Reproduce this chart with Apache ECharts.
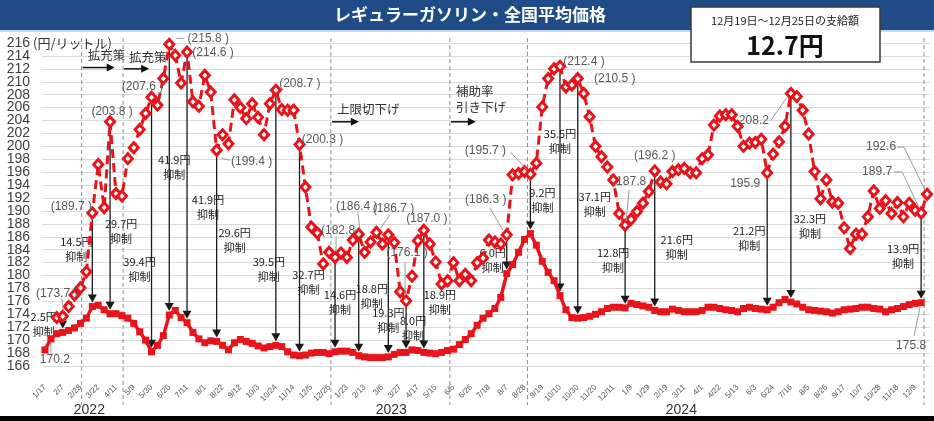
<!DOCTYPE html>
<html><head><meta charset="utf-8">
<script src="https://cdn.jsdelivr.net/npm/echarts@6/dist/echarts.min.js"></script>
<style>html,body{margin:0;padding:0;background:#fff}#c{width:934px;height:421px}</style>
</head><body><div id="c"></div>
<script>
// ---- DATA ----
const categories = [
'1/17','1/24','1/31','2/7','2/14','2/21','2/28','3/7','3/14','3/22','3/28','4/4','4/11','4/18','4/25','5/9','5/16','5/23','5/30','6/6','6/13','6/20','6/27','7/4','7/11','7/19','7/25','8/1','8/8','8/15','8/22','8/29','9/5','9/12','9/20','9/26','10/3','10/11','10/17','10/24','10/31','11/7','11/14','11/21','11/28','12/5','12/12','12/19','12/26',
'1/10','1/16','1/23','1/30','2/6','2/13','2/20','2/27','3/6','3/13','3/20','3/27','4/3','4/10','4/17','4/24','5/8','5/15','5/22','5/29','6/5','6/12','6/19','6/26','7/3','7/10','7/18','7/24','7/31','8/7','8/14','8/21','8/28','9/4','9/11','9/19','9/25','10/2','10/10','10/16','10/23','10/30','11/6','11/13','11/20','11/27','12/4','12/11','12/18','12/25',
'1/9','1/15','1/22','1/29','2/5','2/13','2/19','2/26','3/4','3/11','3/18','3/25','4/1','4/8','4/15','4/22','4/30','5/7','5/13','5/20','5/27','6/3','6/10','6/17','6/24','7/1','7/8','7/16','7/22','7/29','8/5','8/13','8/19','8/26','9/2','9/9','9/17','9/24','9/30','10/7','10/15','10/21','10/28','11/5','11/11','11/18','11/25','12/2','12/9','12/16','12/23'];

// y-axis tick labels
const yTickLabels = [166,168,170,172,174,176,178,180,182,184,186,188,190,192,194,196,198,200,202,204,206,208,210,212,214,216];
const yearLabels = [['2022', 7], ['2023', 58], ['2024', 107]]; // [text, category position]

// price with subsidy (solid line, squares)
const withSubsidy = [
168.5,170.2,171.0,171.2,171.5,171.9,172.6,173.4,175.2,175.4,174.7,174.1,174.1,173.8,173.4,172.6,171.3,170.0,168.2,169.2,
170.7,173.9,174.6,173.5,172.7,171.2,170.2,169.6,169.9,169.8,169.2,168.5,169.6,170.1,169.8,169.5,169.1,168.8,169.0,169.2,
169.0,168.2,167.7,167.6,167.7,168.0,168.1,168.1,167.9,168.2,168.3,168.3,168.1,167.6,167.4,167.3,167.3,167.3,167.4,167.8,
168.1,168.1,168.5,168.4,168.1,168.0,167.9,168.1,168.4,168.6,169.3,170.1,171.0,172.3,173.4,174.1,174.9,176.6,180.3,181.7,
183.6,185.6,186.5,184.7,182.2,180.5,179.2,176.9,174.7,173.5,173.4,173.5,173.7,174.0,174.4,174.9,175.1,175.1,175.0,175.7,
175.5,175.3,175.1,174.6,174.4,174.4,174.8,174.6,174.4,174.4,174.4,174.6,175.1,175.1,174.9,174.7,174.6,174.4,174.9,175.1,
174.9,174.8,174.7,175.1,175.8,176.3,175.9,175.6,175.1,174.7,174.6,174.5,174.4,174.2,174.4,174.7,174.8,174.9,175.1,175.1,
174.9,174.8,174.4,174.7,174.9,175.2,175.5,175.7,175.8];

// price without subsidy (dashed line, diamonds)
const withoutSubsidy = [
null,null,173.5,173.7,175.2,177.0,178.1,180.6,189.7,197.2,190.5,203.8,192.7,192.3,198.1,199.8,202.6,205.1,207.6,206.4,
210.5,215.8,214.1,209.8,214.6,206.9,206.2,211.0,208.4,199.4,201.8,200.4,207.2,206.0,204.3,206.6,204.5,201.8,206.6,208.7,
205.7,205.6,205.6,200.3,193.7,187.5,186.6,181.8,183.6,182.8,183.5,182.8,185.5,186.4,183.6,185.2,186.7,184.9,186.3,185.1,
177.5,176.1,179.9,185.4,187.0,184.9,182.1,178.7,179.2,182.0,179.2,180.2,179.2,182.0,182.7,185.5,185.2,184.9,186.3,195.6,
195.8,196.1,195.7,197.4,206.1,210.5,212.0,212.4,209.2,209.5,210.5,208.2,204.6,200.0,198.4,196.8,194.8,189.6,187.8,188.7,
189.9,191.2,193.0,196.2,194.5,194.2,196.1,196.4,196.6,195.9,195.9,198.1,198.7,203.3,204.7,204.9,204.9,203.1,200.0,200.5,
200.6,201.1,195.9,198.8,200.7,203.1,208.2,207.7,205.6,201.9,196.1,191.9,194.8,191.4,191.2,187.4,184.2,186.4,186.4,189.1,
193.1,190.4,191.6,189.6,191.3,189.1,191.2,190.1,189.7,192.6];

// subsidy arrows: category index and label
const arrowIdx  = [3,8,11,18,21,24,29,39,43,49,53,58,61,64,78,82,87,90,98,103,122,126,148];
const arrowText = ['2.5円','14.5円','29.7円','39.4円','41.9円','41.9円','29.6円','39.5円','32.7円','14.6円','18.8円','19.3円','8.0円','18.9円','6.0円','9.2円','35.5円','37.1円','12.8円','21.6円','21.2円','32.3円','13.9円'];
// text anchor: [dx px, axis value]
const arrowTextPos = [[-19,172.5],[-16,184.0],[11,186.9],[-12,181.0],[5,196.8],[21,190.6],[18,185.5],[-7,180.9],[9,179.0],[5,175.9],[13,176.8],[0,173.1],[7,171.9],[16,175.9],[-14,182.4],[12,191.7],[0,200.8],[17,191.1],[-12,182.4],[22,184.4],[-18,185.7],[19,187.7],[-18,183.0]];

// value labels: [index, series('d' dashed / 's' solid), text]
const valueLabels = [
[3,'d','(173.7 )'],[1,'s','170.2'],[8,'d','(189.7 )'],[11,'d','(203.8 )'],[18,'d','(207.6 )'],[21,'d','(215.8 )'],
[24,'d','(214.6 )'],[29,'d','(199.4 )'],[39,'d','(208.7 )'],[43,'d','(200.3 )'],[49,'d','(182.8'],[53,'d','(186.4 )'],
[56,'d','(186.7 )'],[64,'d','(187.0 )'],[61,'d','(176.1 )'],[78,'d','(186.3 )'],[82,'d','(195.7 )'],[87,'d','(212.4 )'],
[90,'d','(210.5 )'],[98,'d','187.8'],[103,'d','(196.2 )'],[126,'d','208.2'],[122,'d','195.9'],[149,'d','192.6'],
[148,'d','189.7'],[148,'s','175.8']];
// text offset [dx,dy] and optional leader polyline (relative px)
const valueLabelLayout = [
[[-6,-23],[[-1,-18],[1,-5]]],[[4,21],[[0,14],[0,4]]],[[-21,-6]],[[2,-10]],[[-9,-11]],[[39,-6],[[7,-6],[15,-6]]],
[[26,1]],[[35,11],[[5,8],[13,10]]],[[24,-6]],[[23,-5]],[[3,-27],[[1,-21],[1,-6]]],[[-2,-28],[[-1,-22],[1,-6]]],
[[17,-24],[[14,-18],[4,-4]]],[[3,-12]],[[1,-48],[[-1,-39],[-1,-6]]],[[-21,-35],[[-17,-27],[-4,-5]]],[[-45,-23],[[-20,-22],[-3,-4]]],[[24,-5]],
[[37,0]],[[6,-43],[[4,-35],[1,-4]]],[[0,-15]],[[-37,27],[[-20,27],[-4,4]]],[[-22,11]],[[-46,-47],[[-30,-47],[-23,-47],[-2,-4]]],
[[-44,-41],[[-27,-41],[-19,-41],[-2,-5]]],[[-10,43],[[-7,33],[-1,4]]]];

// vertical dashed separators (fractional category positions) and phase notes
const separators = [6.2, 13.2, 48.3, 68.4, 81.5, 148.5];
const phaseNotes = [
  {at:6.2,  text:'拡充策',        textV:214.1, arrowV:212.2, len:33},
  {at:13.2, text:'拡充策',        textV:213.8, arrowV:212.0, len:26},
  {at:48.3, text:'上限切下げ',    textV:205.8, arrowV:203.8, len:28},
  {at:68.4, text:'補助率\n引き下げ', textV:207.3, arrowV:203.8, len:26}
];
const yMin = 166, yMax = 216, yStep = 2;

// ---- CHART ----
const RED = '#E8141B';
const JP = '"Noto Sans CJK JP","Noto Sans",sans-serif';
const NUM = '"Liberation Sans","Noto Sans",sans-serif';
const chart = echarts.init(document.getElementById('c'));

function fx(api, pos, v){ const p = api.coord([0, v]); const band = api.size([1,0])[0]; return [p[0] + pos*band, p[1]]; }

const option = {
  animation:false,
  grid:{left:42, right:4, top:43, bottom:55, containLabel:false},
  xAxis:{type:'category', data:categories, boundaryGap:true,
    axisLine:{show:false}, axisTick:{show:false},
    axisLabel:{interval:2, rotate:45, fontSize:8, color:'#595959', margin:20, fontFamily:NUM, hideOverlap:false},
    splitLine:{show:false}},
  yAxis:{type:'value', min:yMin, max:yMax, interval:yStep,
    axisLine:{show:false}, axisTick:{show:false},
    axisLabel:{show:false},
    splitLine:{showMinLine:true, showMaxLine:true, lineStyle:{color:'#d9d9d9', width:1}}},
  graphic:[
    {type:'rect', shape:{x:0,y:0,width:934,height:30}, style:{fill:'#1F4C86'}, z:10},
    {type:'rect', shape:{x:0,y:30,width:934,height:2}, style:{fill:'#c6d9ef'}, z:10},
    {type:'text', x:470, y:15, style:{text:'レギュラーガソリン・全国平均価格', fill:'#fff', font:'bold 17px '+JP, align:'center', verticalAlign:'middle'}, z:11},
    {type:'rect', shape:{x:691,y:7,width:189,height:55}, style:{fill:'#fff', stroke:'#3a3a3a', lineWidth:1.5}, z:12},
    {type:'text', x:785, y:21, style:{text:'12月19日～12月25日の支給額', fill:'#222', font:'11px '+JP, align:'center', verticalAlign:'middle'}, z:13},
    {type:'text', x:785, y:45, style:{text:'12.7円', fill:'#111', font:'bold 25px '+JP, align:'center', verticalAlign:'middle'}, z:13},
    {type:'text', x:33, y:43, style:{text:'(円/リットル)', fill:'#333', font:'13px '+JP, align:'left', verticalAlign:'middle'}, z:5},
    {type:'rect', shape:{x:0,y:416,width:934,height:5}, style:{fill:'#000'}, z:20}
  ],
  series:[
    { // y tick labels and year labels
      type:'custom', clip:false, silent:true, z:1,
      data: yTickLabels.map(v=>[0, v]), encode:{x:0,y:1},
      renderItem(params, api){
        const v = yTickLabels[params.dataIndex];
        const p = api.coord([0, v]);
        const band = api.size([1,0])[0];
        const ch = [{type:'text', x:p[0]-band/2-12, y:p[1], style:{text:String(v), fill:'#404040', font:'14px '+NUM, align:'right', verticalAlign:'middle'}}];
        if(params.dataIndex===0){
          yearLabels.forEach(y=>{ const q = fx(api, y[1], yMin); ch.push({type:'text', x:q[0]+band/2, y:410, style:{text:y[0], fill:'#333', font:'14px '+NUM, align:'center', verticalAlign:'middle'}}); });
        }
        return {type:'group', children:ch};
      }
    },
    { // separators and phase notes
      type:'custom', clip:false, silent:true, z:1,
      data: separators.map((s,k)=>[s, yMax]), encode:{x:0,y:1},
      renderItem(params, api){
        const pos = separators[params.dataIndex];
        const top = fx(api, pos, yMax);
        const ch = [{type:'line', shape:{x1:top[0],y1:top[1]-5,x2:top[0],y2:405}, style:{stroke:'#8c8c8c', lineWidth:1, lineDash:[4,3]}}];
        const note = phaseNotes.find(n=>n.at===pos);
        if(note){
          const ty = fx(api,pos,note.textV)[1], ay = fx(api,pos,note.arrowV)[1];
          ch.push({type:'text', x:top[0]+6, y:ty, style:{text:note.text, fill:'#333', font:'12.5px '+JP, align:'left', verticalAlign:'middle', lineHeight:16}});
          ch.push({type:'line', shape:{x1:top[0]+1,y1:ay,x2:top[0]+note.len-6,y2:ay}, style:{stroke:'#111', lineWidth:1.5}});
          ch.push({type:'polygon', shape:{points:[[top[0]+note.len-8,ay-4],[top[0]+note.len-8,ay+4],[top[0]+note.len,ay]]}, style:{fill:'#111'}});
        }
        return {type:'group', children:ch};
      }
    },
    { // arrows
      type:'custom', clip:false, silent:true, z:2,
      data: arrowIdx.map(i=>[i, withoutSubsidy[i]]), encode:{x:0,y:1},
      renderItem(params, api){
        const k = params.dataIndex, i = arrowIdx[k];
        const t = api.coord([i, withoutSubsidy[i]]);
        const b = api.coord([i, withSubsidy[i]]);
        const tip = b[1]-4;
        const tp = arrowTextPos[k];
        const ty = api.coord([i, tp[1]])[1];
        return {type:'group', children:[
          {type:'line', shape:{x1:t[0],y1:t[1],x2:t[0],y2:tip-6}, style:{stroke:'#1a1a1a', lineWidth:1.3}},
          {type:'polygon', shape:{points:[[t[0]-4.5,tip-8],[t[0]+4.5,tip-8],[t[0],tip]]}, style:{fill:'#1a1a1a'}},
          {type:'text', x:t[0]+tp[0], y:ty, z2:5, style:{text:arrowText[k]+'\n抑制', fill:'#1a1a1a', font:'11px '+JP, align:'center', verticalAlign:'middle', lineHeight:15}}
        ]};
      }
    },
    {
      name:'補助後', type:'line', data:withSubsidy, z:3,
      symbol:'rect', symbolSize:7, showAllSymbol:true,
      lineStyle:{color:RED, width:3.5}, itemStyle:{color:RED}
    },
    {
      name:'補助なし', type:'line', data:withoutSubsidy, z:4, connectNulls:false,
      symbol:'diamond', symbolSize:[9,10], showAllSymbol:true,
      lineStyle:{color:RED, width:3, type:[9,5]},
      itemStyle:{color:'#fff', borderColor:RED, borderWidth:3}
    },
    { // value labels
      type:'custom', clip:false, silent:true, z:5,
      data: valueLabels.map(l=>[l[0], l[1]==='d'?withoutSubsidy[l[0]]:withSubsidy[l[0]]]), encode:{x:0,y:1},
      renderItem(params, api){
        const k = params.dataIndex, l = valueLabels[k], lay = valueLabelLayout[k];
        const v = l[1]==='d' ? withoutSubsidy[l[0]] : withSubsidy[l[0]];
        const p = api.coord([l[0], v]);
        const ch = [{type:'text', x:p[0]+lay[0][0], y:p[1]+lay[0][1], style:{text:l[2], fill:'#595959', font:'12px '+NUM, align:'center', verticalAlign:'middle'}}];
        if(lay[1]) ch.push({type:'polyline', shape:{points:lay[1].map(q=>[p[0]+q[0],p[1]+q[1]])}, style:{stroke:'#9a9a9a', lineWidth:1, fill:null}});
        return {type:'group', children:ch};
      }
    }
  ]
};
chart.setOption(option);
</script>
</body></html>
